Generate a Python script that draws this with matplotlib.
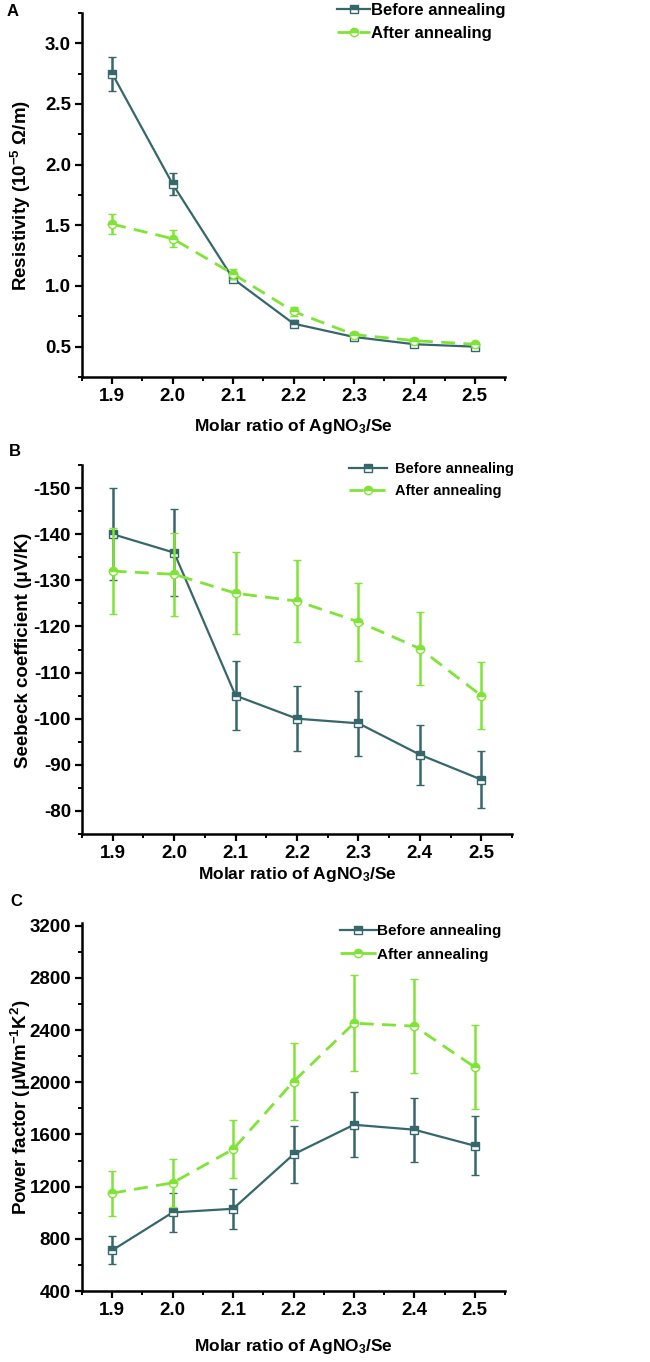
import matplotlib
matplotlib.use('Agg')
import matplotlib.pyplot as plt
import matplotlib.ticker as ticker
from matplotlib.lines import Line2D

plt.rcParams.update({
    'font.family': 'Liberation Sans',
    'font.weight': 'bold',
    'axes.labelweight': 'bold',
    'mathtext.fontset': 'custom',
    'mathtext.rm': 'Liberation Sans:bold',
    'mathtext.it': 'Liberation Sans:bold',
    'mathtext.bf': 'Liberation Sans:bold',
    'mathtext.default': 'rm',
    'axes.unicode_minus': False,
})

ratio = [1.9, 2.0, 2.1, 2.2, 2.3, 2.4, 2.5]

res_before = [2.75, 1.84, 1.06, 0.69, 0.58, 0.52, 0.50]
res_before_err = [0.14, 0.09, 0.03, 0.03, 0.02, 0.02, 0.02]
res_after = [1.51, 1.39, 1.10, 0.79, 0.60, 0.55, 0.52]
res_after_err = [0.08, 0.07, 0.04, 0.04, 0.02, 0.02, 0.02]

see_before = [-140, -136, -105, -100, -99, -92.2, -86.8]
see_before_err = [10, 9.5, 7.4, 7, 7, 6.5, 6.1]
see_after = [-132, -131.3, -127.2, -125.5, -121, -115.2, -105]
see_after_err = [9.3, 9, 8.9, 8.8, 8.5, 8, 7.3]

pf_before = [712, 1002, 1030, 1447, 1674, 1636, 1513]
pf_before_err = [107, 152, 155, 216, 250, 244, 226]
pf_after = [1150, 1229, 1486, 2005, 2452, 2430, 2115]
pf_after_err = [172, 183, 221, 298, 367, 361, 320]

labels = ['Before annealing', 'After annealing']

c_before = '#36676a'
c_after = '#80e436'

W, H = 650, 1362
fig = plt.figure(figsize=(W / 100, H / 100), dpi=100)

style_before = dict(color=c_before, lw=1.6, marker='s', ms=5.5, fillstyle='top',
                    mfc=c_before, mfcalt='white', mec=c_before, mew=1.0)
style_after = dict(color=c_after, lw=2.0, ls=(0, (5, 3)), marker='o', ms=6,
                   fillstyle='top', mfc=c_after, mfcalt='white', mec=c_after, mew=1.0)

handles = [Line2D([], [], **style_before), Line2D([], [], **style_after)]


def box(l, r, t, b):
    return [l / W, 1 - b / H, (r - l) / W, (b - t) / H]


def draw_panel(ax, yb, yb_err, ya, ya_err):
    ax.errorbar(ratio, yb, yerr=yb_err, elinewidth=1.8, capsize=3, capthick=1.8,
                zorder=3, **style_before)
    ax.errorbar(ratio, ya, yerr=ya_err, elinewidth=1.8, capsize=3, capthick=1.8,
                zorder=4, **style_after)
    ax.spines['top'].set_visible(False)
    ax.spines['right'].set_visible(False)
    ax.spines['left'].set_linewidth(1.8)
    ax.spines['bottom'].set_linewidth(1.8)
    ax.set_xlim(1.85, 2.55)
    ax.set_xticks(ratio)
    ax.xaxis.set_minor_locator(ticker.AutoMinorLocator(2))
    ax.yaxis.set_minor_locator(ticker.AutoMinorLocator(2))
    ax.tick_params(which='major', direction='out', length=5, width=1.6,
                   labelsize=13.5, pad=3)
    ax.tick_params(which='minor', direction='out', length=3, width=1.4)
    ax.xaxis.set_major_formatter(ticker.FormatStrFormatter('%.1f'))


def add_legend(ax, x0, y0, fs, hlen, tpad, lspace):
    ax.legend(handles, labels, loc='upper left', bbox_to_anchor=(x0 / W, 1 - y0 / H),
              bbox_transform=fig.transFigure, frameon=False, fontsize=fs,
              handlelength=hlen, handletextpad=tpad, labelspacing=lspace,
              borderpad=0, borderaxespad=0)


# panel A
axA = fig.add_axes(box(82, 505, 13, 377))
draw_panel(axA, res_before, res_before_err, res_after, res_after_err)
axA.set_ylim(0.25, 3.25)
axA.set_yticks([0.5, 1.0, 1.5, 2.0, 2.5, 3.0])
axA.yaxis.set_major_formatter(ticker.FormatStrFormatter('%.1f'))
add_legend(axA, 337, 3, 12, 2.0, 0.05, 0.5)

# panel B
axB = fig.add_axes(box(82, 512, 465, 834))
draw_panel(axB, see_before, see_before_err, see_after, see_after_err)
axB.set_ylim(-75, -155)
axB.set_yticks([-150, -140, -130, -120, -110, -100, -90, -80])
add_legend(axB, 349, 462, 10.5, 2.6, 0.55, 0.58)

# panel C
axC = fig.add_axes(box(82, 505, 923, 1291))
draw_panel(axC, pf_before, pf_before_err, pf_after, pf_after_err)
axC.set_ylim(400, 3220)
axC.set_yticks(range(400, 3201, 400))
add_legend(axC, 340, 924, 11, 2.4, 0.05, 0.63)

xlab = 'Molar ratio of AgNO$_3$/Se'
for xc, yc in [(293, 426), (297, 874), (293, 1346)]:
    fig.text(xc / W, 1 - yc / H, xlab, ha='center', va='center', fontsize=12.5, fontweight='bold')

fig.text(21 / W, 1 - 195 / H, 'Resistivity (10$^{-5}$ Ω/m)', rotation=90,
         ha='center', va='center', fontsize=13.5, fontweight='bold')
fig.text(24 / W, 1 - 650 / H, 'Seebeck coefficient (μV/K)', rotation=90,
         ha='center', va='center', fontsize=13.5, fontweight='bold')
fig.text(21 / W, 1 - 1107 / H, 'Power factor (μWm$^{-1}$K$^2$)', rotation=90,
         ha='center', va='center', fontsize=13.5, fontweight='bold')

fig.text(13 / W, 1 - 12 / H, 'A', ha='center', va='center', fontsize=12, fontweight='bold')
fig.text(15 / W, 1 - 452 / H, 'B', ha='center', va='center', fontsize=12, fontweight='bold')
fig.text(16 / W, 1 - 902 / H, 'C', ha='center', va='center', fontsize=12, fontweight='bold')

fig.savefig('out.png', dpi=100, facecolor='white')
